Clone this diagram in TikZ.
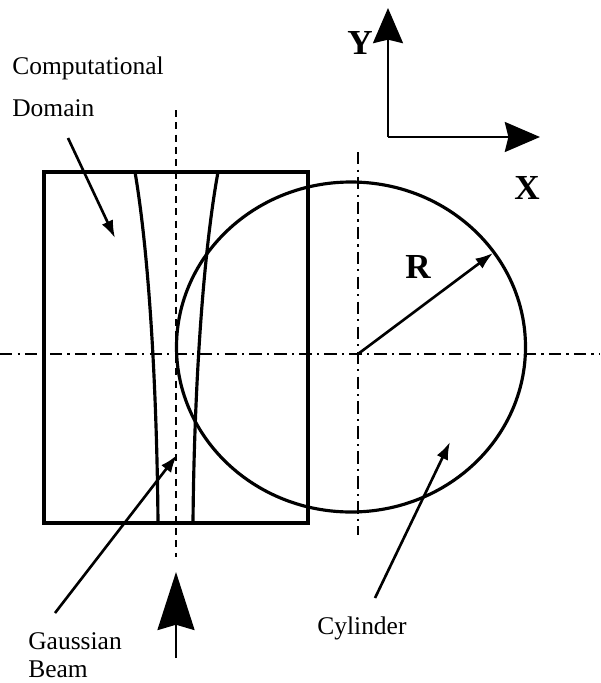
\documentclass[tikz,border=0pt]{standalone}
\usepackage{fontspec}
\setmainfont{Liberation Serif}
\usetikzlibrary{arrows.meta}

\begin{document}
\begin{tikzpicture}[x=0.02cm,y=-0.02cm,>=Latex]
\tikzstyle{lbl}=[anchor=west,inner sep=0pt,font=\fontsize{14.5}{16}\selectfont]
\tikzstyle{axlbl}=[inner sep=0pt,font=\fontsize{20}{22}\selectfont\bfseries]
\tikzstyle{pointer}=[-{Latex[length=10pt,width=7pt]},line width=1.5pt]
\tikzstyle{bigarrow}=[-{Stealth[length=20pt,width=17pt,inset=2pt]},line width=1.7pt]
\tikzstyle{centreline}=[line width=1.5pt,dash pattern=on 7pt off 3pt on 1.2pt off 3pt]
\tikzstyle{wall}=[line width=1.8pt]
\useasboundingbox (0,0) rectangle (600,683);

% domain, cylinder and beam
\draw[wall] (44,172) rectangle (308,523);
\draw[wall] (351,347) ellipse [x radius=174.5, y radius=165];
\draw[wall] (135,172) .. controls (150,260) and (157,400) .. (158,523);
\draw[wall] (218,172) .. controls (202,260) and (194,400) .. (193,523);

% centre lines
\draw[centreline] (0,354) -- (600,354);
\draw[centreline] (358,152) -- (358,535);
\draw[line width=1.7pt,dash pattern=on 4pt off 3pt] (176,110) -- (176,557);

% axes
\coordinate (o) at (388,137);
\coordinate (ytip) at (388,8);
\coordinate (xtip) at (540,137);
\draw[bigarrow] (o) -- (ytip);
\draw[bigarrow] (o) -- (xtip);
\node[axlbl] (ylab) at (360,43) {Y};
\node[axlbl] (xlab) at (527,188) {X};

% radius
\coordinate (c) at (358,354);
\coordinate (rim) at (493,253);
\draw[pointer] (c) -- (rim);
\node[axlbl] (rlab) at (418,267) {R};

% incoming beam
\coordinate (btail) at (176,658);
\coordinate (btip) at (176,572);
\draw[-{Stealth[length=33pt,width=21pt,inset=3pt]},line width=1.7pt] (btail) -- (btip);

% labels
\node[lbl] (comp) at (12,68) {Computational};
\node[lbl] (dom) at (12,108) {Domain};
\node[lbl] (gauss) at (28,641) {Gaussian};
\node[lbl] (beam) at (28,669) {Beam};
\node[lbl] (cyl) at (317,628) {Cylinder};

\coordinate (dtail) at (68,138);
\coordinate (dtip) at (115,238);
\coordinate (gtail) at (55,613);
\coordinate (gtip) at (177,455);
\coordinate (ctail) at (375,598);
\coordinate (ctip) at (450,442);
\foreach \a/\b in {dtail/dtip,gtail/gtip,ctail/ctip}{\draw[pointer] (\a) -- (\b);}
\end{tikzpicture}
\end{document}
